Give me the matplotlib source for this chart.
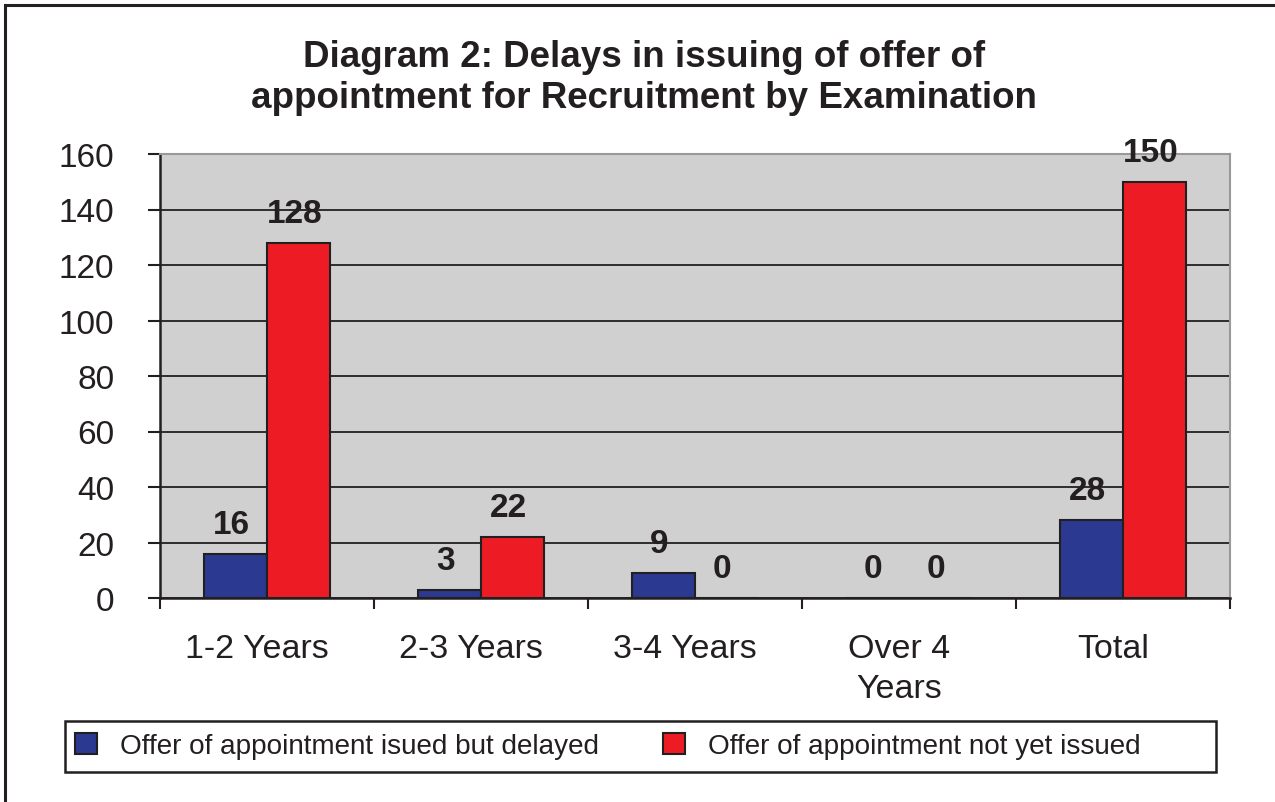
import matplotlib.pyplot as plt
import matplotlib.transforms as mtransforms
import numpy as np
from matplotlib.patches import Rectangle

categories = ['1-2 Years', '2-3 Years', '3-4 Years', 'Over 4\nYears', 'Total']
issued_delayed = [16, 3, 9, 0, 28]
not_issued = [128, 22, 0, 0, 150]
series_labels = ['Offer of appointment isued but delayed',
                 'Offer of appointment not yet issued']
y_ticks = [0, 20, 40, 60, 80, 100, 120, 140, 160]

BLUE = '#2B3990'
RED = '#ED1C24'
INK = '#231F20'

plt.rcParams['font.family'] = ['Liberation Sans', 'DejaVu Sans']

fig = plt.figure(figsize=(12.75, 8.03), dpi=100)
ax = fig.add_axes([160 / 1275, 1 - 599 / 803, 1070 / 1275, 444 / 803])
ax.set_facecolor('#D0D0D0')

x = np.arange(len(categories))
w = 0.294
b1 = ax.bar(x - w / 2, issued_delayed, w, color=BLUE, edgecolor=INK,
            linewidth=1.5, label=series_labels[0], zorder=3)
b2 = ax.bar(x + w / 2, not_issued, w, color=RED, edgecolor=INK,
            linewidth=1.5, label=series_labels[1], zorder=3)

for bars, vals in ((b1, issued_delayed), (b2, not_issued)):
    for bar, v in zip(bars, vals):
        ax.annotate(str(v), (bar.get_x() + bar.get_width() / 2, v),
                    xytext=(-3, 15), textcoords='offset points',
                    ha='center', va='baseline', fontsize=24,
                    fontweight='bold', color=INK, zorder=5,
                    annotation_clip=False)

ax.set_xlim(-0.5, len(categories) - 0.5)
ax.set_ylim(0, 160)
ax.set_yticks(y_ticks)
ax.set_xticks(x)
ax.set_xticklabels(categories, linespacing=1.37)
ax.set_xticks(np.arange(-0.5, len(categories)), minor=True)
ax.tick_params(axis='x', which='major', length=0, pad=25, labelsize=24.5,
               labelcolor=INK)
ax.tick_params(axis='x', which='minor', length=8, width=1.5, color=INK,
               direction='out')
ax.tick_params(axis='y', length=9, width=1.5, color=INK, pad=24,
               labelsize=24, labelcolor=INK)

# category labels sit a little left of the group centres in the original
shift = mtransforms.ScaledTranslation(-0.1, 0, fig.dpi_scale_trans)
for lbl in ax.get_xticklabels():
    lbl.set_transform(lbl.get_transform() + shift)

ax.grid(axis='y', color=INK, linewidth=1.3, zorder=1)
ax.set_axisbelow(True)
for s in ('top', 'right'):
    ax.spines[s].set_color('#999999')
    ax.spines[s].set_linewidth(1.5)
for s in ('left', 'bottom'):
    ax.spines[s].set_color(INK)
    ax.spines[s].set_linewidth(1.8)
ax.spines['bottom'].set_zorder(4)

fig.text(0.505, 1 - 78 / 803,
         'Diagram 2: Delays in issuing of offer of\n'
         'appointment for Recruitment by Examination',
         ha='center', va='center', fontsize=26.5, fontweight='bold',
         color=INK, linespacing=1.22)

leg = ax.legend(loc='center left', bbox_to_anchor=(75 / 1275, 1 - 747 / 803),
                bbox_transform=fig.transFigure, ncol=2, frameon=False,
                fontsize=20.1, handlelength=0.8, handleheight=0.8,
                handletextpad=0.8, columnspacing=2.3, borderpad=0,
                borderaxespad=0)
for t in leg.get_texts():
    t.set_color(INK)

fig.patches.append(Rectangle((65 / 1275, 1 - 773 / 803), 1151 / 1275, 51 / 803,
                             fill=False, edgecolor=INK, linewidth=1.8,
                             transform=fig.transFigure, figure=fig))
fig.patches.append(Rectangle((5 / 1275, -0.2), 1.5, 1.2 - 6 / 803,
                             fill=False, edgecolor=INK, linewidth=2.2,
                             transform=fig.transFigure, figure=fig))

fig.savefig('out.png', dpi=100)
